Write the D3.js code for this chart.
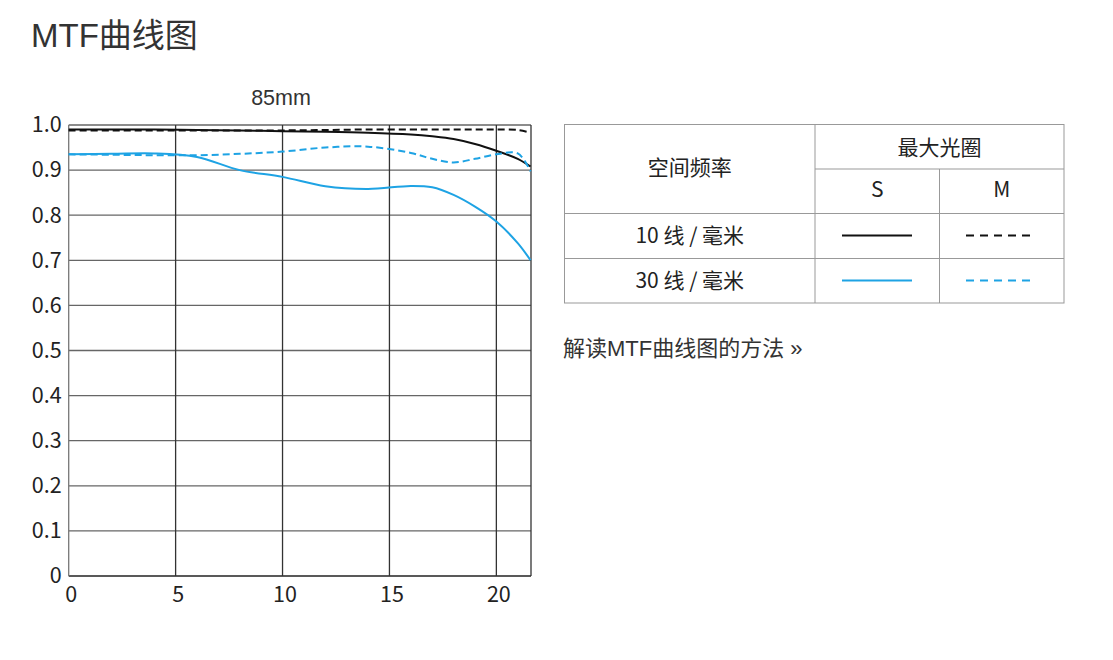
<!DOCTYPE html>
<html><head><meta charset="utf-8">
<script src="https://cdn.jsdelivr.net/npm/d3@7/dist/d3.min.js"></script>
<style>
body{margin:0;background:#fff;}
svg{display:block;}
</style></head>
<body><svg id="c" width="1113" height="660"></svg>
<script>
const fieldPos = [0,2,4,6,8,10,12,14,16,17,18,19,20,21,21.6];
const sag10 = [0.990,0.990,0.990,0.989,0.988,0.986,0.985,0.983,0.979,0.975,0.969,0.958,0.943,0.925,0.908];
const mer10 = [0.988,0.988,0.988,0.988,0.988,0.988,0.989,0.990,0.990,0.990,0.990,0.990,0.990,0.989,0.983];
const sag30 = [0.935,0.936,0.937,0.929,0.900,0.885,0.864,0.858,0.865,0.862,0.845,0.819,0.786,0.738,0.700];
const mer30 = [0.935,0.934,0.933,0.933,0.936,0.941,0.950,0.952,0.938,0.925,0.917,0.925,0.935,0.937,0.897];
const xTicks = [0,5,10,15,20];
const yTicks = [0,0.1,0.2,0.3,0.4,0.5,0.6,0.7,0.8,0.9,1.0];
const yTickLabels = ["0","0.1","0.2","0.3","0.4","0.5","0.6","0.7","0.8","0.9","1.0"];
const seriesNames = ["10 线 / 毫米","30 线 / 毫米"];
const colNames = ["S","M"];

const BLUE = "#1ea3e4";
const svg = d3.select("#c");
const cjk = "'Noto Sans CJK SC','Noto Sans',sans-serif";
const latin = "'Liberation Sans','Noto Sans CJK SC',sans-serif";

svg.append("text").attr("x",31).attr("y",47).attr("font-family",latin)
  .attr("font-size",33).attr("fill","#333").text("MTF曲线图");

const x = d3.scaleLinear().domain([0,21.62]).range([68.7,531]);
const y = d3.scaleLinear().domain([0,1]).range([576,125]);

svg.append("text").attr("x",281).attr("y",105).attr("text-anchor","middle")
  .attr("font-family",latin).attr("font-size",21.5).attr("fill","#333").text("85mm");

const g = svg.append("g");
g.selectAll(".hg").data(yTicks).enter().append("line")
  .attr("x1",x(0)).attr("x2",x(21.62)).attr("y1",d=>y(d)).attr("y2",d=>y(d))
  .attr("stroke",(d)=>d===0?"#222":"#666").attr("stroke-width",1.3);
g.selectAll(".vg").data(xTicks.concat([21.62])).enter().append("line")
  .attr("y1",y(0)).attr("y2",y(1)).attr("x1",d=>x(d)).attr("x2",d=>x(d))
  .attr("stroke",d=>d===0?"#777":"#333").attr("stroke-width",1.3);

const ax = d3.axisBottom(x).tickValues(xTicks).tickSize(0).tickPadding(11).tickFormat(d3.format("d"));
const ag = svg.append("g").attr("transform",`translate(2,${y(0)})`).call(ax);
ag.select(".domain").remove();
ag.selectAll("text").attr("font-family",cjk).attr("font-size",21.5).attr("fill","#222");
const ay = d3.axisLeft(y).tickValues(yTicks).tickSize(0).tickPadding(7).tickFormat((d,i)=>yTickLabels[i]);
const ayg = svg.append("g").attr("transform",`translate(${x(0)},0)`).call(ay);
ayg.select(".domain").remove();
ayg.selectAll("text").attr("font-family",cjk).attr("font-size",21.5).attr("fill","#222");

const line = d3.line().x(d=>x(d[0])).y(d=>y(d[1])).curve(d3.curveCatmullRom.alpha(0.5));
const series = [
  {v:sag10,c:"#111",dash:null},
  {v:mer10,c:"#111",dash:"7,4"},
  {v:mer30,c:BLUE,dash:"7,4"},
  {v:sag30,c:BLUE,dash:null}
];
series.forEach(s=>{
  svg.append("path").attr("d",line(fieldPos.map((p,i)=>[p,s.v[i]])))
    .attr("fill","none").attr("stroke",s.c).attr("stroke-width",2)
    .attr("stroke-dasharray",s.dash);
});

const T = svg.append("g");
const bc = "#999";
const L=564.5,R=1064,C1=815,C2=939.5,Tp=124.5,R1=169,R2=213.5,R3=258.5,B=303;
T.append("rect").attr("x",L).attr("y",Tp).attr("width",R-L).attr("height",B-Tp).attr("fill","none").attr("stroke",bc);
[[C1,Tp,C1,B],[C2,R1,C2,B],[C1,R1,R,R1],[L,R2,R,R2],[L,R3,R,R3]].forEach(a=>
  T.append("line").attr("x1",a[0]).attr("y1",a[1]).attr("x2",a[2]).attr("y2",a[3]).attr("stroke",bc));
const txt=(tx,ty,t)=>T.append("text").attr("x",tx).attr("y",ty).attr("text-anchor","middle")
  .attr("font-family",cjk).attr("font-size",21).attr("fill","#222").text(t);
txt((L+C1)/2,175,"空间频率");
txt((C1+R)/2,155,"最大光圈");
txt((C1+C2)/2,197,colNames[0]);
txt((C2+R)/2,197,colNames[1]);
txt((L+C1)/2,243,seriesNames[0]);
txt((L+C1)/2,288,seriesNames[1]);
const sample=(x1,x2,yy,c,dash)=>T.append("line").attr("x1",x1).attr("x2",x2).attr("y1",yy).attr("y2",yy)
  .attr("stroke",c).attr("stroke-width",2).attr("stroke-dasharray",dash);
sample(842,912,235.5,"#111",null);
sample(966,1034,235.5,"#111","8,6");
sample(842,912,280.5,BLUE,null);
sample(966,1034,280.5,BLUE,"8,6");

svg.append("text").attr("x",563).attr("y",356).attr("font-family",latin)
  .attr("font-size",22).attr("fill","#333").text("解读MTF曲线图的方法 »");
</script></body></html>
